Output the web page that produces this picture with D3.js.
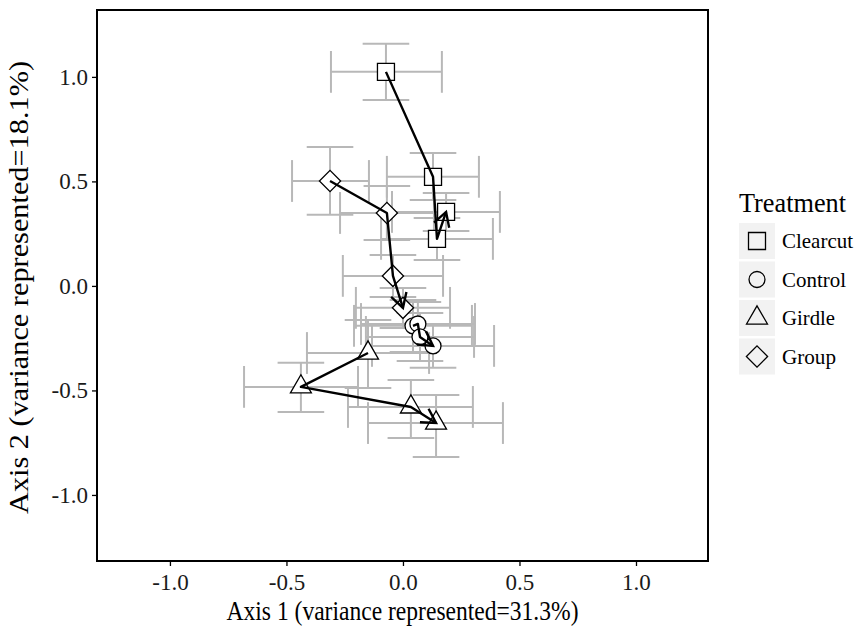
<!DOCTYPE html>
<html lang="en">
<head>
<meta charset="UTF-8">
<title>Ordination by treatment</title>
<style>
  body { margin: 0; background: #fff; }
  text { font-family: "Liberation Serif", "DejaVu Serif", serif; }
</style>
<script src="https://d3js.org/d3.v7.min.js"></script>
</head>
<body>
<script>
// centroids with error ranges, listed in path (time) order
const clearcut = [
  { x: -0.073, y: 1.024, xlo: -0.309, xhi: 0.167, ylo: 0.890, yhi: 1.158 },
  { x: 0.129, y: 0.522, xlo: -0.069, xhi: 0.326, ylo: 0.411, yhi: 0.636 },
  { x: 0.146, y: 0.225, xlo: -0.094, xhi: 0.386, ylo: 0.124, yhi: 0.325 },
  { x: 0.185, y: 0.354, xlo: -0.047, xhi: 0.416, ylo: 0.263, yhi: 0.445 }
];
const control = [
  { x: 0.043, y: -0.191, xlo: -0.210, xhi: 0.296, ylo: -0.316, yhi: -0.067 },
  { x: 0.064, y: -0.182, xlo: -0.180, xhi: 0.309, ylo: -0.287, yhi: -0.077 },
  { x: 0.073, y: -0.244, xlo: -0.159, xhi: 0.305, ylo: -0.359, yhi: -0.129 },
  { x: 0.129, y: -0.287, xlo: -0.133, xhi: 0.391, ylo: -0.392, yhi: -0.182 }
];
const girdle = [
  { x: -0.150, y: -0.321, xlo: -0.412, xhi: 0.112, ylo: -0.488, yhi: -0.163 },
  { x: -0.438, y: -0.483, xlo: -0.682, xhi: -0.193, ylo: -0.603, yhi: -0.368 },
  { x: 0.034, y: -0.579, xlo: -0.236, xhi: 0.300, ylo: -0.727, yhi: -0.450 },
  { x: 0.142, y: -0.656, xlo: -0.150, xhi: 0.429, ylo: -0.818, yhi: -0.522 }
];
const group = [
  { x: -0.313, y: 0.502, xlo: -0.476, xhi: -0.146, ylo: 0.340, yhi: 0.665 },
  { x: -0.069, y: 0.349, xlo: -0.270, xhi: 0.133, ylo: 0.220, yhi: 0.478 },
  { x: -0.043, y: 0.048, xlo: -0.258, xhi: 0.172, ylo: -0.053, yhi: 0.148 },
  { x: 0.000, y: -0.105, xlo: -0.202, xhi: 0.202, ylo: -0.201, yhi: -0.010 }
];

const treatments = ["Clearcut", "Control", "Girdle", "Group"];
const seriesData = [clearcut, control, girdle, group];
const tickValues = [-1.0, -0.5, 0.0, 0.5, 1.0];

const width = 856, height = 630;
const panel = { left: 97, right: 708, top: 10, bottom: 561 };
const capHalf = 0.1;   // errorbar cap half-size in data units

const svg = d3.select("body").append("svg")
  .attr("width", width)
  .attr("height", height);

const x = d3.scaleLinear().domain([-1.313, 1.309]).range([panel.left, panel.right]);
const y = d3.scaleLinear().domain([-1.316, 1.32]).range([panel.bottom, panel.top]);

const shapeFor = {
  Clearcut: { type: d3.symbolSquare, size: 289, rot: 0 },
  Control: { type: d3.symbolCircle, size: 200, rot: 0 },
  Girdle: { type: d3.symbolTriangle, size: 190, rot: 0 },
  Group: { type: d3.symbolSquare, size: 225, rot: 45 }
};

svg.append("defs").append("marker")
  .attr("id", "arrow")
  .attr("viewBox", "-18 -10 22 20")
  .attr("refX", 0).attr("refY", 0)
  .attr("markerWidth", 22).attr("markerHeight", 20)
  .attr("markerUnits", "userSpaceOnUse")
  .attr("orient", "auto")
  .append("path")
  .attr("d", "M-14,-8L0,0L-14,8")
  .attr("fill", "none")
  .attr("stroke", "black")
  .attr("stroke-width", 2.4);

const plot = svg.append("g");

// errorbars (grey), all groups first
const eb = plot.append("g")
  .attr("stroke", "#b8b8b8")
  .attr("stroke-width", 2)
  .attr("fill", "none");

seriesData.flat().forEach(function(d) {
  eb.append("line").attr("x1", x(d.xlo)).attr("x2", x(d.xhi)).attr("y1", y(d.y)).attr("y2", y(d.y));
  eb.append("line").attr("x1", x(d.xlo)).attr("x2", x(d.xlo)).attr("y1", y(d.y - capHalf)).attr("y2", y(d.y + capHalf));
  eb.append("line").attr("x1", x(d.xhi)).attr("x2", x(d.xhi)).attr("y1", y(d.y - capHalf)).attr("y2", y(d.y + capHalf));
  eb.append("line").attr("x1", x(d.x)).attr("x2", x(d.x)).attr("y1", y(d.ylo)).attr("y2", y(d.yhi));
  eb.append("line").attr("x1", x(d.x - capHalf)).attr("x2", x(d.x + capHalf)).attr("y1", y(d.ylo)).attr("y2", y(d.ylo));
  eb.append("line").attr("x1", x(d.x - capHalf)).attr("x2", x(d.x + capHalf)).attr("y1", y(d.yhi)).attr("y2", y(d.yhi));
});

// points
seriesData.forEach(function(pts, i) {
  const s = shapeFor[treatments[i]];
  plot.append("g").selectAll("path")
    .data(pts)
    .join("path")
    .attr("d", d3.symbol().type(s.type).size(s.size))
    .attr("transform", d => "translate(" + x(d.x) + "," + y(d.y) + ") rotate(" + s.rot + ")")
    .attr("fill", "white")
    .attr("stroke", "black")
    .attr("stroke-width", 1.3);
});

// paths, arrow on the last step
const line = d3.line().x(d => x(d.x)).y(d => y(d.y));
seriesData.forEach(function(pts) {
  plot.append("path")
    .attr("d", line(pts))
    .attr("fill", "none")
    .attr("stroke", "black")
    .attr("stroke-width", 2.4)
    .attr("stroke-linejoin", "round")
    .attr("marker-end", "url(#arrow)");
});

svg.append("rect")
  .attr("x", panel.left).attr("y", panel.top)
  .attr("width", panel.right - panel.left)
  .attr("height", panel.bottom - panel.top)
  .attr("fill", "none")
  .attr("stroke", "black")
  .attr("stroke-width", 2);

// axes
const fmt = d => d.toFixed(1);
const xAxis = svg.append("g")
  .attr("transform", "translate(0," + panel.bottom + ")")
  .call(d3.axisBottom(x).tickValues(tickValues).tickFormat(fmt).tickSize(5).tickPadding(8).tickSizeOuter(0));
const yAxis = svg.append("g")
  .attr("transform", "translate(" + panel.left + ",0)")
  .call(d3.axisLeft(y).tickValues(tickValues).tickFormat(fmt).tickSize(5).tickPadding(4).tickSizeOuter(0));

[xAxis, yAxis].forEach(function(a) {
  a.select(".domain").remove();
  a.selectAll("line").attr("stroke", "black").attr("stroke-width", 1.3);
  a.selectAll("text")
    .attr("font-family", "Liberation Serif")
    .attr("font-size", 23)
    .attr("fill", "#1a1a1a");
});

// text squeezed to the width it has in the original
function label(px, py, size, txt, len, anchor, rot) {
  return svg.append("text")
    .attr("transform", "translate(" + px + "," + py + ")" + (rot ? " rotate(" + rot + ")" : ""))
    .attr("text-anchor", anchor)
    .attr("font-size", size)
    .attr("textLength", len)
    .attr("lengthAdjust", "spacingAndGlyphs")
    .attr("fill", "black")
    .text(txt);
}

label((panel.left + panel.right) / 2, 620, 27.5, "Axis 1 (variance represented=31.3%)", 352, "middle");
label(28, (panel.top + panel.bottom) / 2 + 2, 28, "Axis 2 (variance represented=18.1%)", 453, "middle", -90);

// legend
const labelLen = [71, 64, 53, 54];
label(739, 212, 27, "Treatment", 107, "start");

treatments.forEach(function(t, i) {
  const top = 223 + i * 38.5;
  const s = shapeFor[t];
  svg.append("rect")
    .attr("x", 739).attr("y", top)
    .attr("width", 36).attr("height", 36)
    .attr("fill", "#f2f2f2");
  svg.append("path")
    .attr("d", d3.symbol().type(s.type).size(s.size)())
    .attr("transform", "translate(757," + (top + 18) + ") rotate(" + s.rot + ")")
    .attr("fill", "none")
    .attr("stroke", "black")
    .attr("stroke-width", 1.3);
  label(782, top + 25, 21.5, t, labelLen[i], "start");
});
</script>
</body>
</html>
